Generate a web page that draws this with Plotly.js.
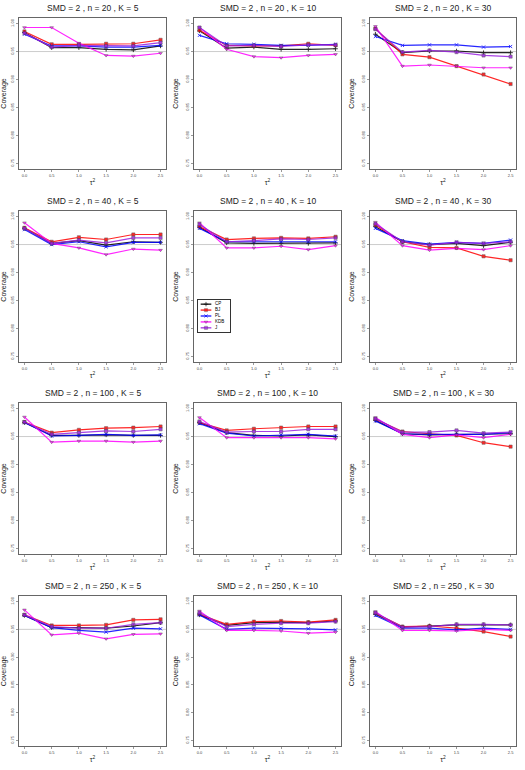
<!DOCTYPE html>
<html>
<head>
<meta charset="utf-8">
<script src="https://cdn.plot.ly/plotly-3.0.1.min.js"></script>
<style>
  body { margin: 0; background: #fff; }
  #chart { width: 525px; height: 770px; }
</style>
</head>
<body>
<div id="chart"></div>
<script>
// tau^2 grid and panel settings
var tau2 = [0, 0.5, 1, 1.5, 2, 2.5];
var tauTicks = ['0.0', '0.5', '1.0', '1.5', '2.0', '2.5'];
var nValues = [20, 40, 100, 250];
var kValues = [5, 10, 30];
var yTicks = [0.75, 0.80, 0.85, 0.90, 0.95, 1.00];
var methods = ['CP', 'BJ', 'PL', 'KDB', 'J'];

// coverage, one row per panel (n = 20,40,100,250 x K = 5,10,30)
var cpCov = [
    [0.984, 0.957, 0.957, 0.954, 0.953, 0.960],
    [0.987, 0.956, 0.958, 0.954, 0.954, 0.955],
    [0.981, 0.948, 0.951, 0.951, 0.948, 0.948],
    [0.979, 0.952, 0.957, 0.949, 0.955, 0.954],
    [0.981, 0.953, 0.952, 0.952, 0.952, 0.953],
    [0.982, 0.955, 0.950, 0.952, 0.948, 0.954],
    [0.975, 0.952, 0.952, 0.953, 0.952, 0.952],
    [0.975, 0.957, 0.952, 0.951, 0.953, 0.950],
    [0.979, 0.955, 0.953, 0.954, 0.954, 0.955],
    [0.975, 0.953, 0.953, 0.952, 0.956, 0.962],
    [0.976, 0.957, 0.962, 0.963, 0.962, 0.965],
    [0.977, 0.954, 0.956, 0.958, 0.958, 0.958]
];
var bjCov = [
    [0.986, 0.963, 0.963, 0.964, 0.964, 0.971],
    [0.988, 0.961, 0.960, 0.960, 0.964, 0.961],
    [0.991, 0.945, 0.940, 0.924, 0.909, 0.892],
    [0.980, 0.955, 0.963, 0.959, 0.968, 0.968],
    [0.982, 0.959, 0.961, 0.962, 0.961, 0.964],
    [0.985, 0.955, 0.945, 0.944, 0.929, 0.922],
    [0.976, 0.957, 0.962, 0.965, 0.966, 0.968],
    [0.975, 0.961, 0.964, 0.966, 0.968, 0.968],
    [0.981, 0.959, 0.955, 0.952, 0.939, 0.932],
    [0.976, 0.957, 0.957, 0.958, 0.967, 0.968],
    [0.977, 0.959, 0.964, 0.965, 0.963, 0.967],
    [0.979, 0.955, 0.956, 0.952, 0.946, 0.937]
];
var plCov = [
    [0.981, 0.960, 0.960, 0.958, 0.958, 0.961],
    [0.979, 0.964, 0.963, 0.961, 0.961, 0.963],
    [0.977, 0.961, 0.962, 0.962, 0.958, 0.959],
    [0.977, 0.950, 0.955, 0.946, 0.954, 0.954],
    [0.979, 0.955, 0.955, 0.955, 0.955, 0.955],
    [0.979, 0.957, 0.951, 0.954, 0.952, 0.958],
    [0.975, 0.951, 0.952, 0.954, 0.952, 0.953],
    [0.973, 0.956, 0.951, 0.953, 0.954, 0.951],
    [0.978, 0.955, 0.954, 0.954, 0.954, 0.957],
    [0.975, 0.953, 0.948, 0.945, 0.952, 0.951],
    [0.976, 0.950, 0.952, 0.952, 0.951, 0.949],
    [0.975, 0.952, 0.952, 0.949, 0.952, 0.950]
];
var kdbCov = [
    [0.993, 0.993, 0.965, 0.943, 0.942, 0.947],
    [0.993, 0.954, 0.941, 0.939, 0.943, 0.945],
    [0.995, 0.924, 0.926, 0.924, 0.921, 0.921],
    [0.989, 0.952, 0.944, 0.932, 0.942, 0.940],
    [0.989, 0.944, 0.944, 0.947, 0.941, 0.948],
    [0.990, 0.948, 0.940, 0.943, 0.941, 0.948],
    [0.985, 0.940, 0.942, 0.942, 0.940, 0.942],
    [0.984, 0.948, 0.948, 0.948, 0.948, 0.946],
    [0.984, 0.954, 0.948, 0.953, 0.948, 0.954],
    [0.985, 0.940, 0.943, 0.933, 0.941, 0.942],
    [0.983, 0.948, 0.948, 0.947, 0.943, 0.945],
    [0.982, 0.948, 0.948, 0.947, 0.950, 0.948]
];
var jCov = [
    [0.983, 0.958, 0.961, 0.960, 0.960, 0.966],
    [0.993, 0.960, 0.961, 0.959, 0.962, 0.962],
    [0.990, 0.949, 0.952, 0.949, 0.943, 0.941],
    [0.979, 0.952, 0.958, 0.953, 0.962, 0.962],
    [0.986, 0.955, 0.957, 0.960, 0.959, 0.962],
    [0.987, 0.955, 0.949, 0.954, 0.952, 0.955],
    [0.976, 0.954, 0.957, 0.960, 0.959, 0.963],
    [0.977, 0.958, 0.959, 0.959, 0.963, 0.963],
    [0.982, 0.958, 0.958, 0.961, 0.956, 0.958],
    [0.976, 0.955, 0.952, 0.952, 0.959, 0.962],
    [0.980, 0.955, 0.959, 0.961, 0.961, 0.964],
    [0.980, 0.954, 0.955, 0.959, 0.959, 0.958]
];

var allCov = [cpCov, bjCov, plCov, kdbCov, jCov];
var colors = ['#000000', '#ff0000', '#0000ff', '#ff00ff', '#9a20e0'];
var symbols = ['cross-thin', 'square', 'x-thin', 'triangle-down', 'square'];

// panel boxes in pixels (R par(mfrow) layout)
var W = 525, H = 770;
var colLeft = [19, 194, 370], colRight = [166, 341, 516];
var rowTop = [18, 211, 403, 596], rowBottom = [169, 362, 554, 746];

var traces = [];
var layout = {
    width: W, height: H,
    margin: { l: 0, r: 0, t: 0, b: 0 },
    paper_bgcolor: '#fff',
    plot_bgcolor: '#fff',
    showlegend: false,
    font: { family: 'Liberation Sans, Arial, sans-serif', color: '#000', weight: 'normal' },
    annotations: [],
    shapes: []
};

let marker = (i) => {
    let m = { symbol: symbols[i], size: 3.2, color: colors[i], line: { width: 0.5, color: '#444' } };
    if (symbols[i].indexOf('thin') >= 0) m.line = { width: 0.9, color: colors[i] };
    return m;
};

nValues.forEach((n, r) => {
    kValues.forEach((k, c) => {
        let p = r * 3 + c;
        let id = p === 0 ? '' : String(p + 1);
        let xa = 'x' + id, ya = 'y' + id;

        layout['xaxis' + id] = {
            domain: [colLeft[c] / W, colRight[c] / W],
            anchor: ya,
            range: [-0.1, 2.6],
            tickvals: tau2,
            ticktext: tauTicks,
            ticks: 'outside', ticklen: 2, tickwidth: 0.6, tickcolor: '#555',
            tickfont: { size: 4, color: '#444' },
            showgrid: false, zeroline: false,
            showline: true, mirror: true, linecolor: '#666', linewidth: 1,
            title: { text: 'τ<sup>2</sup>', font: { size: 7, color: '#222' }, standoff: 3 }
        };
        layout['yaxis' + id] = {
            domain: [1 - rowBottom[r] / H, 1 - rowTop[r] / H],
            anchor: xa,
            range: [0.74, 1.01],
            tickvals: yTicks,
            tickformat: '.2f',
            tickangle: -90,
            ticks: 'outside', ticklen: 2, tickwidth: 0.6, tickcolor: '#555',
            tickfont: { size: 4, color: '#444' },
            showgrid: false, zeroline: false,
            showline: true, mirror: true, linecolor: '#666', linewidth: 1,
            title: { text: 'Coverage', font: { size: 7, color: '#222' }, standoff: 5 }
        };

        // nominal 0.95 reference line
        layout.shapes.push({
            type: 'line', xref: xa, yref: ya, x0: -0.1, x1: 2.6, y0: 0.95, y1: 0.95,
            line: { color: '#cccccc', width: 1 }, layer: 'below'
        });

        layout.annotations.push({
            xref: xa + ' domain', yref: ya + ' domain', x: 0.5, y: 1,
            yanchor: 'bottom', yshift: 3, showarrow: false,
            text: `SMD = 2 , n = ${n} , K = ${k}`,
            font: { size: 8.5, color: '#222', weight: 'normal' }
        });

        methods.forEach((m, i) => {
            traces.push({
                x: tau2, y: allCov[i][p],
                xaxis: xa, yaxis: ya,
                type: 'scatter', mode: 'lines+markers',
                name: m, opacity: 0.85,
                line: { color: colors[i], width: 1.2 },
                marker: marker(i),
                hoverinfo: 'skip'
            });
        });
    });
});

// legend drawn as a small inset axis inside the n = 40, K = 10 panel
layout.xaxis13 = {
    domain: [198 / W, 230 / W], anchor: 'y13', range: [0, 3],
    showticklabels: false, ticks: '', showgrid: false, zeroline: false,
    showline: true, mirror: true, linecolor: '#000', linewidth: 0.8
};
layout.yaxis13 = {
    domain: [1 - 332 / H, 1 - 300 / H], anchor: 'x13', range: [4.7, -0.7],
    showticklabels: false, ticks: '', showgrid: false, zeroline: false,
    showline: true, mirror: true, linecolor: '#000', linewidth: 0.8
};
methods.forEach((m, i) => {
    traces.push({
        x: [0.25, 0.75, 1.25], y: [i, i, i],
        xaxis: 'x13', yaxis: 'y13',
        type: 'scatter', mode: 'lines+markers',
        line: { color: colors[i], width: 1.2 },
        marker: Object.assign(marker(i), { size: [0, 3.2, 0] }),
        hoverinfo: 'skip'
    });
    traces.push({
        x: [1.6], y: [i], xaxis: 'x13', yaxis: 'y13',
        type: 'scatter', mode: 'text', text: [m], textposition: 'middle right',
        textfont: { size: 4.5, color: '#000' }, hoverinfo: 'skip'
    });
});

Plotly.newPlot('chart', traces, layout, { staticPlot: true });
</script>
</body>
</html>
